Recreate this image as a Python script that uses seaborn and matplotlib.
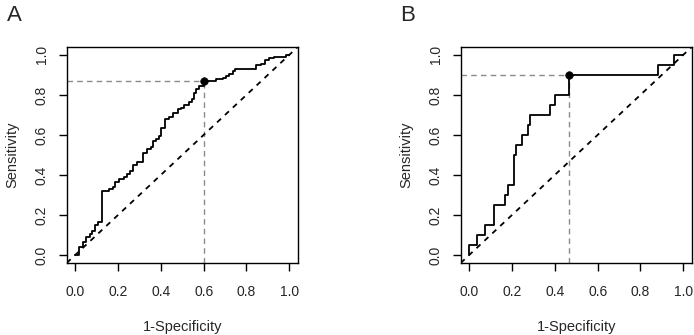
import matplotlib
matplotlib.use("Agg")
import matplotlib.pyplot as plt
import seaborn as sns

# --- ROC curve A (step corners: 1-specificity, sensitivity) ---
fpr_a = [0.0, 0.017, 0.036, 0.048, 0.067, 0.079, 0.092, 0.107, 0.123, 0.126,
         0.160, 0.176, 0.188, 0.204, 0.230, 0.243, 0.258, 0.269, 0.288, 0.316,
         0.334, 0.355, 0.365, 0.378, 0.393, 0.401, 0.421, 0.437, 0.456, 0.479,
         0.495, 0.510, 0.530, 0.546, 0.557, 0.565, 0.580, 0.600, 0.658, 0.689,
         0.705, 0.720, 0.736, 0.748, 0.844, 0.868, 0.888, 0.907, 0.930, 0.984, 1.0]
tpr_a = [0.0, 0.038, 0.063, 0.088, 0.105, 0.121, 0.150, 0.163, 0.180, 0.321,
         0.329, 0.338, 0.363, 0.379, 0.388, 0.404, 0.421, 0.449, 0.463, 0.512,
         0.529, 0.542, 0.571, 0.579, 0.596, 0.637, 0.679, 0.692, 0.709, 0.729,
         0.737, 0.749, 0.765, 0.779, 0.812, 0.829, 0.845, 0.870, 0.879, 0.887,
         0.895, 0.907, 0.920, 0.932, 0.948, 0.953, 0.975, 0.983, 0.992, 1.0, 1.0]
best_a = (0.60, 0.87)

# --- ROC curve B ---
fpr_b = [0.0, 0.0, 0.036, 0.076, 0.117, 0.167, 0.181, 0.207, 0.220, 0.245,
         0.273, 0.285, 0.376, 0.402, 0.465, 0.880, 0.957, 1.0]
tpr_b = [0.0, 0.05, 0.10, 0.15, 0.25, 0.30, 0.35, 0.50, 0.55, 0.60,
         0.65, 0.70, 0.75, 0.80, 0.90, 0.95, 1.00, 1.00]
best_b = (0.465, 0.90)

ticks = [0.0, 0.2, 0.4, 0.6, 0.8, 1.0]
tick_labels = ["0.0", "0.2", "0.4", "0.6", "0.8", "1.0"]

sns.set_style("ticks")
plt.rcParams['font.family'] = ['Liberation Sans', 'DejaVu Sans']

fig = plt.figure(figsize=(6.94, 3.35), dpi=100)
ax_a = fig.add_axes([0.0961, 0.215, 0.333, 0.645])
ax_b = fig.add_axes([0.6638, 0.215, 0.333, 0.645])


def draw_roc(ax, fpr, tpr, best, letter, letter_x):
    lo, hi = -0.04, 1.04
    ax.set_xlim(lo, hi)
    ax.set_ylim(lo, hi)
    # cut-off guides
    ax.plot([lo, best[0]], [best[1], best[1]], color="#8a8a8a", lw=1.0,
            ls=(0, (4, 3)))
    ax.plot([best[0], best[0]], [lo, best[1]], color="#8a8a8a", lw=1.0,
            ls=(0, (4, 3)))
    # chance line
    ax.axline((0, 0), (1, 1), color="black", lw=1.3, ls=(0, (3, 3)))
    sns.lineplot(x=fpr, y=tpr, ax=ax, sort=False, estimator=None,
                 drawstyle="steps-post", color="black", lw=1.3)
    sns.scatterplot(x=[best[0]], y=[best[1]], ax=ax, color="black", s=30,
                    edgecolor="black", zorder=5)
    ax.set_xticks(ticks)
    ax.set_xticklabels(tick_labels)
    ax.set_yticks(ticks)
    ax.set_yticklabels(tick_labels, rotation=90, va="center")
    ax.tick_params(axis="both", direction="out", length=6, width=1,
                   labelsize=10, color="black")
    ax.tick_params(axis="x", pad=10)
    ax.tick_params(axis="y", pad=7)
    for s in ax.spines.values():
        s.set_visible(True)
        s.set_linewidth(1.0)
        s.set_color("black")
    ax.set_xlabel("1-Specificity", fontsize=10.5, labelpad=15)
    ax.set_ylabel("Sensitivity", fontsize=10.5, labelpad=11)
    fig.text(letter_x, 0.985, letter, fontsize=16, ha="left", va="top")


draw_roc(ax_a, fpr_a, tpr_a, best_a, "A", 0.010)
draw_roc(ax_b, fpr_b, tpr_b, best_b, "B", 0.577)

fig.savefig("out.png", dpi=100)
